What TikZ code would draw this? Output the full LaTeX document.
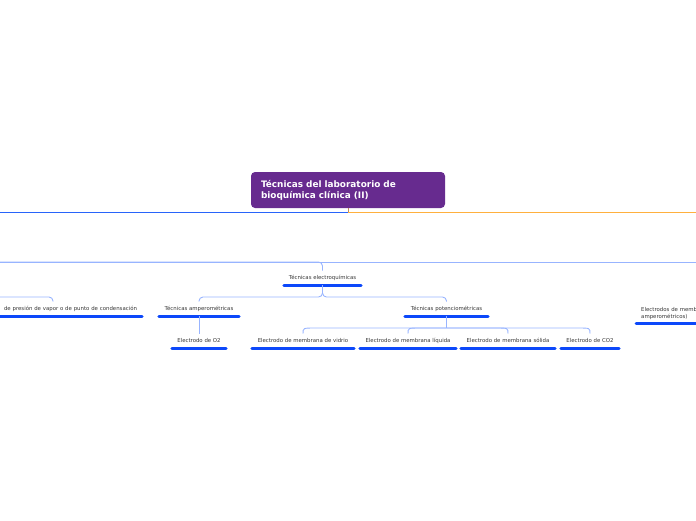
\documentclass[tikz,border=0pt]{standalone}
\usepackage{fontspec}
\setmainfont{DejaVu Sans}
\usetikzlibrary{calc}
\definecolor{rootpurple}{RGB}{103,43,143}
\definecolor{ulblue}{RGB}{12,72,250}
\definecolor{connblue}{RGB}{152,180,255}
\definecolor{topblue}{RGB}{40,100,250}
\definecolor{toporange}{RGB}{255,176,62}
\definecolor{stub}{RGB}{190,140,90}
\definecolor{txt}{RGB}{55,55,55}
\tikzset{
  topic/.style={font=\fontsize{5.4}{6.8}\selectfont, text=txt, inner sep=0pt, minimum height=14pt, anchor=south},
  ul/.style={draw=ulblue, line width=3pt, line cap=round},
  conn/.style={draw=connblue, line width=0.9pt},
  rootbox/.style={fill=rootpurple, rounded corners=4pt, text=white, font=\fontsize{8.9}{11.2}\selectfont\bfseries,
     minimum width=194pt, minimum height=36pt, text width=174pt, align=left, inner xsep=10pt}
}
\begin{document}
\begin{tikzpicture}[x=1pt,y=-1pt]
\useasboundingbox (0,0) rectangle (696,520);
\clip (0,0) rectangle (696,520);
% root
\node[rootbox] (root) at (348,190) {Técnicas del laboratorio de\\bioquímica clínica (II)};
\coordinate (j0) at (348,212);
\coordinate (lE) at (0,212);
\coordinate (rE) at (696,212);
\draw[stub, line width=1pt] (root.south) -- (j0);
\draw[topblue, line width=1pt] (j0) -- (lE);
\draw[toporange, line width=1pt] (j0) -- (rE);
% topics
\node[topic, minimum width=77pt] (electro) at (322.5,285) {Técnicas electroquímicas};
\node[topic, minimum width=80pt] (amp) at (199,316) {Técnicas amperométricas};
\node[topic, minimum width=83pt] (pot) at (446.5,316) {Técnicas potenciométricas};
\node[topic, text width=168pt, align=right, inner xsep=5pt] (pres) at (53,316) {de presión de vapor o de punto de condensación};
\node[topic, minimum width=54pt] (o2) at (199,348) {Electrodo de O2};
\node[topic, minimum width=102pt] (vid) at (303,348) {Electrodo de membrana de vidrio};
\node[topic, minimum width=96pt] (liq) at (408,348) {Electrodo de membrana líquida};
\node[topic, minimum width=94pt] (sol) at (508,348) {Electrodo de membrana sólida};
\node[topic, minimum width=58pt] (co2) at (590,348) {Electrodo de CO2};
\node[topic, anchor=south west, minimum width=90pt, text width=80pt, align=left, inner xsep=5pt, inner ysep=3pt] (memb) at (636,323) {Electrodos de membrana\\amperométricos)};
\foreach \n in {electro,amp,pot,pres,o2,vid,liq,sol,co2,memb}
  \draw[ul] (\n.south west) -- (\n.south east);
% connectors
\coordinate (b0) at (0,262);
\coordinate (b1) at (696,262);
\draw[conn] (b0) -- (b1);
\draw[conn, rounded corners=4pt] (b0) -| (electro.north);
\coordinate (p0) at (0,297);
\draw[conn, rounded corners=4pt] (p0) -| (pres.north);
\draw[conn, rounded corners=4pt] (electro.south) -- ++(0,12) -| (amp.north);
\draw[conn, rounded corners=4pt] (electro.south) -- ++(0,12) -| (pot.north);
\draw[conn] (amp.south) -- (o2.north);
\coordinate (pj) at (446.5,328);
\draw[conn] (pot.south) -- (pj);
\draw[conn] (pj) -- ($(vid.north|-pj)+(12,0)$) .. controls ($(vid.north|-pj)$) .. (vid.north);
\draw[conn] (pj) -- ($(liq.north|-pj)+(12,0)$) .. controls ($(liq.north|-pj)$) .. (liq.north);
\draw[conn] (pj) -- ($(sol.north|-pj)+(-12,0)$) .. controls ($(sol.north|-pj)$) .. (sol.north);
\draw[conn] (pj) -- ($(co2.north|-pj)+(-12,0)$) .. controls ($(co2.north|-pj)$) .. (co2.north);
\end{tikzpicture}
\end{document}
